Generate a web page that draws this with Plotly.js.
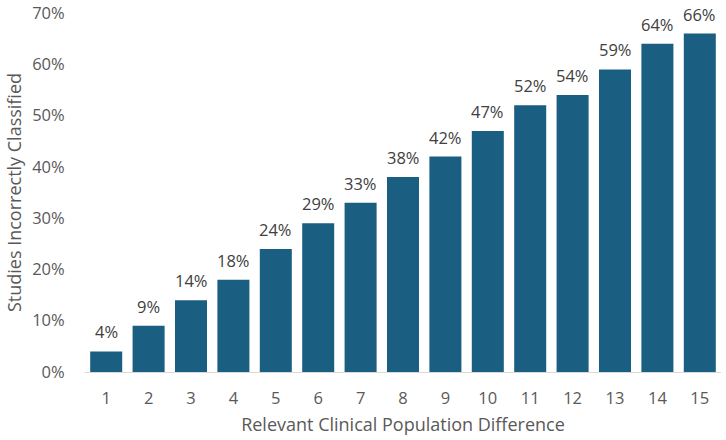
<!DOCTYPE html>
<html>
<head>
<meta charset="utf-8">
<script src="https://cdn.plot.ly/plotly-3.0.1.min.js"></script>
<style>
  html, body { margin: 0; padding: 0; background: #ffffff; }
  #chart { width: 726px; height: 440px; }
</style>
</head>
<body>
<div id="chart"></div>
<script>
// Population difference categories (x axis)
const differences = ['1', '2', '3', '4', '5', '6', '7', '8', '9', '10', '11', '12', '13', '14', '15'];
// Share of studies incorrectly classified, per difference
const incorrectShare = [0.04, 0.09, 0.14, 0.18, 0.24, 0.29, 0.33, 0.38, 0.42, 0.47, 0.52, 0.54, 0.59, 0.64, 0.66];
// Y axis extent and tick spacing
const yMax = 0.7;
const yStep = 0.1;

const FONT = '"Open Sans", Lato, sans-serif';

const barTrace = {
  type: 'bar',
  x: differences,
  y: incorrectShare,
  marker: { color: '#1a5e81' },
  hoverinfo: 'skip'
};

// Value labels sitting above each bar (category index positions)
const valueLabels = differences.map((d, i) => ({
  x: i,
  y: incorrectShare[i],
  xref: 'x',
  yref: 'y',
  text: Math.round(incorrectShare[i] * 100) + '%',
  showarrow: false,
  yanchor: 'bottom',
  yshift: 6,
  font: { family: FONT, size: 16.5, color: '#404040' }
}));

const layout = {
  width: 726,
  height: 440,
  margin: { l: 85, r: 5, t: 13, b: 68 },
  paper_bgcolor: '#ffffff',
  plot_bgcolor: '#ffffff',
  bargap: 0.245,
  showlegend: false,
  font: { family: FONT, color: '#595959' },
  xaxis: {
    type: 'category',
    range: [-0.5, differences.length - 0.5],
    tickfont: { family: FONT, size: 16.5, color: '#595959' },
    ticks: 'outside',
    ticklen: 11,
    tickcolor: 'rgba(0,0,0,0)',
    showline: true,
    linecolor: '#d9d9d9',
    linewidth: 1,
    showgrid: false,
    zeroline: false,
    title: {
      text: 'Relevant Clinical Population Difference',
      font: { family: FONT, size: 18, color: '#595959' },
      standoff: 10
    }
  },
  yaxis: {
    range: [0, yMax],
    tickmode: 'linear',
    tick0: 0,
    dtick: yStep,
    tickformat: '.0%',
    tickfont: { family: FONT, size: 16.5, color: '#595959' },
    ticks: 'outside',
    ticklen: 16,
    tickcolor: 'rgba(0,0,0,0)',
    showline: false,
    showgrid: false,
    zeroline: false,
    title: {
      text: 'Studies Incorrectly Classified',
      font: { family: FONT, size: 18, color: '#595959' },
      standoff: 5
    }
  },
  annotations: valueLabels
};

Plotly.newPlot('chart', [barTrace], layout, { staticPlot: true, displayModeBar: false });
</script>
</body>
</html>
